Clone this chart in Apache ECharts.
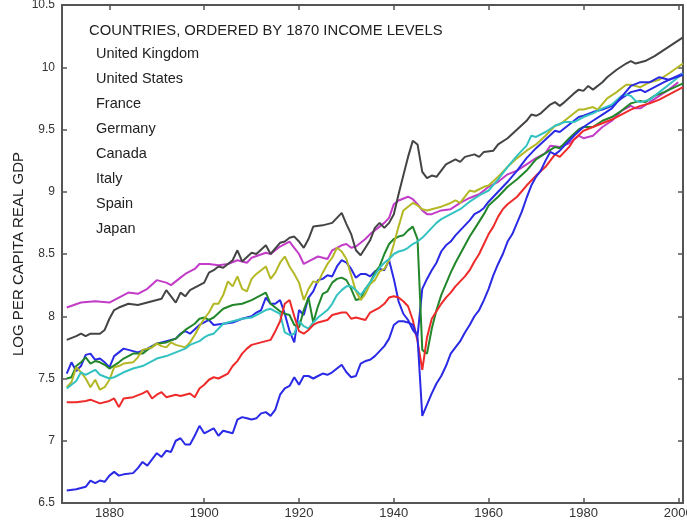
<!DOCTYPE html>
<html>
<head>
<meta charset="utf-8">
<script src="https://cdn.jsdelivr.net/npm/echarts@6/dist/echarts.min.js"></script>
<style>
html,body{margin:0;padding:0;background:#fff;}
#chart{width:687px;height:525px;}
</style>
</head>
<body>
<div id="chart"></div>
<script>
// ---- Data ----
var chartTitle = 'COUNTRIES, ORDERED BY 1870 INCOME LEVELS';
var yAxisName = 'LOG PER CAPITA REAL GDP';
var countries = ['United Kingdom','United States','France','Germany','Canada','Italy','Spain','Japan'];
var xTickValues = [1880, 1900, 1920, 1940, 1960, 1980, 2000];

var ukData = [[1871,8.07],[1874,8.11],[1877,8.12],[1880,8.11],[1882,8.15],[1884,8.19],[1886,8.18],[1888,8.22],[1890,8.29],[1892,8.27],[1893,8.25],[1895,8.31],[1896,8.34],[1898,8.38],[1899,8.42],[1901,8.42],[1903,8.41],[1905,8.42],[1907,8.45],[1909,8.43],[1910,8.47],[1913,8.51],[1914,8.5],[1916,8.56],[1918,8.6],[1919,8.55],[1920,8.5],[1921,8.42],[1922,8.44],[1924,8.48],[1926,8.46],[1927,8.53],[1929,8.57],[1930,8.58],[1931,8.55],[1932,8.56],[1934,8.62],[1935,8.66],[1937,8.72],[1938,8.75],[1939,8.79],[1940,8.9],[1941,8.93],[1943,8.96],[1944,8.94],[1945,8.9],[1946,8.85],[1947,8.82],[1948,8.82],[1950,8.85],[1952,8.86],[1954,8.91],[1956,8.95],[1958,8.98],[1960,9.04],[1962,9.08],[1964,9.14],[1966,9.17],[1968,9.22],[1970,9.27],[1972,9.31],[1973,9.37],[1975,9.36],[1977,9.39],[1979,9.45],[1980,9.43],[1982,9.45],[1984,9.52],[1986,9.57],[1988,9.65],[1990,9.69],[1991,9.67],[1992,9.67],[1994,9.72],[1996,9.77],[1998,9.82],[2000,9.88]];

var usData = [[1871,7.81],[1873,7.84],[1874,7.86],[1875,7.84],[1876,7.86],[1878,7.86],[1879,7.89],[1880,7.98],[1881,8.05],[1882,8.07],[1884,8.1],[1886,8.09],[1888,8.11],[1890,8.13],[1891,8.14],[1892,8.21],[1893,8.16],[1894,8.11],[1895,8.19],[1896,8.16],[1897,8.21],[1899,8.25],[1900,8.27],[1901,8.35],[1902,8.37],[1903,8.4],[1904,8.39],[1906,8.45],[1907,8.53],[1908,8.44],[1910,8.51],[1911,8.5],[1913,8.57],[1914,8.5],[1916,8.59],[1917,8.6],[1918,8.63],[1919,8.64],[1920,8.6],[1921,8.55],[1922,8.62],[1923,8.72],[1925,8.73],[1927,8.75],[1929,8.83],[1930,8.74],[1931,8.66],[1932,8.53],[1933,8.49],[1934,8.55],[1935,8.61],[1936,8.71],[1937,8.75],[1938,8.71],[1939,8.75],[1940,8.82],[1941,8.98],[1942,9.13],[1943,9.28],[1944,9.41],[1945,9.38],[1946,9.16],[1947,9.11],[1948,9.13],[1949,9.12],[1950,9.17],[1951,9.22],[1953,9.26],[1954,9.24],[1955,9.28],[1957,9.3],[1958,9.28],[1959,9.32],[1961,9.33],[1962,9.38],[1964,9.43],[1966,9.5],[1968,9.57],[1969,9.62],[1970,9.61],[1971,9.63],[1973,9.7],[1974,9.72],[1975,9.69],[1976,9.72],[1978,9.79],[1979,9.82],[1980,9.81],[1981,9.85],[1982,9.82],[1984,9.88],[1985,9.92],[1987,9.98],[1989,10.03],[1990,10.05],[1991,10.03],[1993,10.05],[1995,10.09],[1997,10.14],[1999,10.19],[2001,10.24]];

var franceData = [[1871,7.54],[1872,7.63],[1873,7.56],[1874,7.6],[1875,7.69],[1876,7.7],[1877,7.65],[1878,7.66],[1879,7.63],[1880,7.59],[1881,7.68],[1882,7.71],[1883,7.74],[1885,7.72],[1886,7.71],[1888,7.74],[1890,7.78],[1892,7.8],[1894,7.82],[1895,7.86],[1896,7.88],[1897,7.86],[1899,7.93],[1900,7.95],[1901,7.97],[1902,7.93],[1904,7.94],[1906,7.95],[1908,7.98],[1910,8.0],[1911,8.03],[1912,8.05],[1913,8.15],[1914,8.1],[1915,8.1],[1916,8.13],[1917,8.02],[1918,7.88],[1919,7.79],[1920,8.05],[1921,8.01],[1922,8.15],[1923,8.2],[1924,8.29],[1925,8.3],[1926,8.33],[1927,8.32],[1928,8.4],[1929,8.45],[1930,8.43],[1931,8.38],[1932,8.31],[1933,8.34],[1934,8.34],[1935,8.32],[1936,8.36],[1937,8.38],[1938,8.37],[1939,8.45],[1940,8.3],[1941,8.12],[1942,8.02],[1943,7.97],[1944,7.89],[1945,7.84],[1946,8.22],[1947,8.3],[1948,8.37],[1949,8.43],[1950,8.52],[1951,8.57],[1952,8.6],[1953,8.65],[1954,8.69],[1955,8.73],[1956,8.77],[1957,8.82],[1958,8.84],[1959,8.87],[1960,8.92],[1962,9.0],[1964,9.08],[1966,9.17],[1968,9.27],[1970,9.35],[1972,9.42],[1974,9.49],[1975,9.48],[1977,9.54],[1979,9.6],[1980,9.61],[1982,9.64],[1984,9.66],[1986,9.69],[1988,9.75],[1990,9.8],[1992,9.82],[1993,9.8],[1995,9.84],[1997,9.88],[2001,9.95]];

var germanyData = [[1871,7.5],[1872,7.51],[1873,7.6],[1874,7.63],[1875,7.67],[1876,7.62],[1877,7.64],[1878,7.63],[1879,7.61],[1880,7.58],[1882,7.63],[1883,7.66],[1885,7.7],[1887,7.7],[1888,7.73],[1890,7.78],[1892,7.79],[1894,7.82],[1896,7.89],[1898,7.94],[1899,7.98],[1900,7.99],[1901,7.97],[1902,7.99],[1904,8.06],[1906,8.09],[1908,8.1],[1910,8.13],[1912,8.17],[1913,8.19],[1914,8.1],[1916,8.04],[1917,8.02],[1918,8.01],[1919,7.93],[1920,7.91],[1921,8.05],[1922,8.15],[1923,7.95],[1924,8.08],[1925,8.18],[1926,8.2],[1927,8.27],[1928,8.3],[1929,8.31],[1930,8.29],[1931,8.22],[1932,8.13],[1933,8.14],[1934,8.22],[1935,8.27],[1936,8.35],[1937,8.4],[1938,8.5],[1939,8.58],[1940,8.62],[1941,8.64],[1942,8.65],[1943,8.69],[1944,8.72],[1945,8.62],[1946,7.73],[1947,7.7],[1948,7.9],[1949,8.05],[1950,8.17],[1951,8.26],[1952,8.35],[1953,8.43],[1954,8.5],[1955,8.57],[1956,8.64],[1957,8.7],[1958,8.76],[1959,8.82],[1960,8.89],[1962,8.96],[1964,9.04],[1966,9.1],[1968,9.17],[1970,9.26],[1972,9.31],[1974,9.36],[1975,9.35],[1977,9.43],[1979,9.5],[1980,9.52],[1982,9.52],[1984,9.57],[1986,9.6],[1988,9.65],[1990,9.71],[1992,9.73],[1993,9.72],[1995,9.77],[1997,9.8],[2001,9.87]];

var canadaData = [[1871,7.43],[1872,7.47],[1873,7.59],[1874,7.55],[1875,7.5],[1876,7.43],[1877,7.49],[1878,7.41],[1879,7.43],[1880,7.49],[1881,7.59],[1882,7.6],[1883,7.62],[1885,7.63],[1886,7.67],[1887,7.73],[1889,7.75],[1890,7.78],[1891,7.76],[1892,7.75],[1893,7.79],[1894,7.77],[1896,7.75],[1897,7.79],[1898,7.85],[1899,7.92],[1900,7.98],[1901,8.03],[1902,8.1],[1903,8.1],[1904,8.17],[1905,8.28],[1906,8.24],[1907,8.32],[1908,8.22],[1909,8.2],[1910,8.3],[1911,8.34],[1912,8.37],[1913,8.4],[1914,8.3],[1915,8.35],[1916,8.43],[1917,8.48],[1918,8.4],[1919,8.34],[1920,8.27],[1921,8.13],[1922,8.22],[1923,8.28],[1924,8.27],[1925,8.35],[1926,8.42],[1927,8.47],[1928,8.55],[1929,8.52],[1930,8.46],[1931,8.33],[1932,8.2],[1933,8.13],[1934,8.18],[1935,8.26],[1936,8.29],[1937,8.36],[1938,8.38],[1939,8.45],[1940,8.58],[1941,8.72],[1942,8.85],[1943,8.88],[1944,8.91],[1945,8.89],[1946,8.86],[1947,8.85],[1948,8.86],[1950,8.88],[1952,8.91],[1953,8.93],[1954,8.91],[1955,8.96],[1956,9.01],[1957,9.0],[1958,9.02],[1959,9.04],[1960,9.05],[1962,9.12],[1964,9.2],[1966,9.27],[1968,9.33],[1970,9.38],[1972,9.45],[1974,9.53],[1975,9.54],[1977,9.6],[1979,9.66],[1980,9.66],[1982,9.68],[1983,9.66],[1985,9.75],[1987,9.8],[1989,9.86],[1990,9.86],[1992,9.84],[1994,9.88],[1996,9.9],[1998,9.95],[2001,10.03]];

var italyData = [[1871,7.42],[1873,7.48],[1874,7.55],[1875,7.53],[1876,7.55],[1877,7.57],[1878,7.53],[1880,7.5],[1881,7.51],[1883,7.55],[1885,7.58],[1887,7.6],[1888,7.62],[1890,7.66],[1892,7.68],[1894,7.71],[1896,7.74],[1897,7.77],[1899,7.8],[1900,7.83],[1901,7.85],[1902,7.86],[1904,7.94],[1906,7.96],[1908,7.98],[1910,7.99],[1912,8.03],[1913,8.05],[1914,8.06],[1915,8.04],[1916,8.02],[1917,7.87],[1918,7.85],[1919,7.86],[1920,7.96],[1921,7.92],[1922,7.9],[1923,7.95],[1924,7.99],[1926,8.05],[1927,8.1],[1928,8.17],[1929,8.21],[1930,8.24],[1931,8.24],[1932,8.21],[1933,8.17],[1934,8.22],[1935,8.27],[1936,8.33],[1937,8.39],[1938,8.43],[1939,8.46],[1940,8.5],[1941,8.52],[1942,8.53],[1943,8.55],[1944,8.58],[1945,8.6],[1946,8.63],[1947,8.67],[1948,8.71],[1949,8.75],[1950,8.78],[1952,8.82],[1954,8.86],[1956,8.92],[1958,8.97],[1960,9.01],[1962,9.1],[1964,9.2],[1966,9.29],[1968,9.37],[1969,9.45],[1970,9.44],[1972,9.48],[1974,9.53],[1976,9.56],[1978,9.56],[1980,9.6],[1982,9.63],[1984,9.67],[1986,9.7],[1988,9.77],[1989,9.78],[1990,9.77],[1991,9.73],[1992,9.72],[1994,9.74],[1996,9.8],[1998,9.86],[2001,9.95]];

var spainData = [[1871,7.31],[1873,7.31],[1875,7.32],[1876,7.33],[1878,7.3],[1880,7.32],[1881,7.34],[1882,7.27],[1883,7.34],[1885,7.35],[1887,7.38],[1888,7.4],[1889,7.34],[1890,7.37],[1891,7.39],[1892,7.35],[1894,7.37],[1895,7.36],[1897,7.38],[1898,7.35],[1899,7.42],[1900,7.45],[1901,7.49],[1902,7.51],[1903,7.5],[1905,7.54],[1906,7.6],[1907,7.64],[1908,7.7],[1909,7.74],[1910,7.77],[1912,7.79],[1914,7.81],[1915,7.88],[1916,7.96],[1917,8.1],[1918,8.13],[1919,8.0],[1920,7.88],[1921,7.86],[1922,7.89],[1923,7.93],[1924,7.95],[1926,7.97],[1927,8.01],[1929,8.03],[1930,8.03],[1931,7.98],[1932,7.99],[1934,7.97],[1935,8.03],[1936,8.05],[1937,8.07],[1938,8.1],[1939,8.15],[1940,8.16],[1941,8.15],[1942,8.12],[1943,8.08],[1944,7.97],[1945,7.8],[1946,7.57],[1947,7.83],[1948,7.98],[1949,8.04],[1950,8.1],[1951,8.15],[1952,8.19],[1953,8.24],[1954,8.28],[1955,8.32],[1956,8.37],[1957,8.44],[1958,8.5],[1959,8.58],[1960,8.66],[1961,8.72],[1962,8.8],[1963,8.86],[1964,8.9],[1965,8.93],[1966,8.96],[1968,9.05],[1970,9.13],[1972,9.2],[1974,9.3],[1975,9.28],[1977,9.36],[1978,9.42],[1980,9.49],[1982,9.52],[1984,9.55],[1986,9.58],[1988,9.62],[1990,9.66],[1992,9.69],[1994,9.71],[1996,9.74],[1998,9.78],[2001,9.84]];

var japanData = [[1871,6.6],[1873,6.61],[1875,6.63],[1876,6.68],[1877,6.66],[1878,6.68],[1879,6.67],[1880,6.72],[1881,6.75],[1882,6.72],[1883,6.73],[1885,6.74],[1886,6.78],[1887,6.83],[1888,6.8],[1889,6.85],[1890,6.9],[1891,6.87],[1892,6.92],[1893,6.91],[1894,7.0],[1895,7.02],[1896,6.97],[1897,6.97],[1898,7.04],[1899,7.12],[1900,7.06],[1901,7.08],[1902,7.1],[1903,7.04],[1904,7.08],[1905,7.07],[1906,7.06],[1907,7.17],[1908,7.19],[1909,7.18],[1910,7.17],[1911,7.18],[1912,7.22],[1913,7.23],[1914,7.2],[1915,7.25],[1916,7.37],[1917,7.42],[1918,7.44],[1919,7.51],[1920,7.45],[1921,7.52],[1922,7.52],[1923,7.5],[1924,7.52],[1925,7.54],[1926,7.53],[1927,7.55],[1928,7.58],[1929,7.61],[1930,7.55],[1931,7.51],[1932,7.52],[1933,7.62],[1934,7.64],[1935,7.65],[1936,7.68],[1937,7.72],[1938,7.76],[1939,7.82],[1940,7.93],[1941,7.96],[1942,7.96],[1943,7.95],[1944,7.93],[1945,7.83],[1946,7.2],[1947,7.29],[1948,7.38],[1949,7.46],[1950,7.52],[1951,7.6],[1952,7.7],[1953,7.75],[1954,7.8],[1955,7.87],[1956,7.93],[1957,8.0],[1958,8.05],[1959,8.13],[1960,8.22],[1961,8.33],[1962,8.42],[1963,8.5],[1964,8.6],[1965,8.66],[1966,8.75],[1967,8.84],[1968,8.95],[1969,9.05],[1970,9.12],[1971,9.17],[1972,9.25],[1973,9.32],[1974,9.3],[1975,9.33],[1976,9.37],[1977,9.41],[1978,9.45],[1980,9.52],[1982,9.57],[1984,9.62],[1986,9.67],[1988,9.76],[1990,9.85],[1992,9.88],[1994,9.88],[1996,9.92],[1998,9.9],[2001,9.94]];

var seriesValues = [ukData, usData, franceData, germanyData, canadaData, italyData, spainData, japanData];
var lineColors = ['#c23cc8', '#444444', '#2a2ae6', '#22862a', '#b4b824', '#33c2c2', '#ee2a2a', '#2a2ae6'];

// ---- Chart ----
var chart = echarts.init(document.getElementById('chart'), null, {renderer: 'canvas'});
var axisColor = '#555';
var fontFam = '"Liberation Sans", Arial, sans-serif';

var series = countries.map(function (name, i) {
  return {
    name: name,
    type: 'line',
    data: seriesValues[i],
    showSymbol: false,
    symbol: 'none',
    smooth: false,
    lineStyle: {width: 2, color: lineColors[i]},
    itemStyle: {color: lineColors[i]},
    emphasis: {disabled: true},
    z: 2
  };
});

function plainNum(v) { return String(v); }

var option = {
  animation: false,
  backgroundColor: '#fff',
  title: {
    text: chartTitle,
    left: 89,
    top: 23,
    padding: 0,
    textStyle: {fontFamily: fontFam, fontSize: 14.8, fontWeight: 'normal', color: '#222'}
  },
  legend: {
    data: countries,
    orient: 'vertical',
    left: 91,
    top: 46,
    icon: 'none',
    itemWidth: 0,
    itemHeight: 15,
    itemGap: 10,
    padding: 0,
    selectedMode: false,
    textStyle: {fontFamily: fontFam, fontSize: 14.5, color: '#222'}
  },
  grid: {left: 62, right: 4, top: 5, bottom: 22, containLabel: false, outerBoundsMode: 'none'},
  xAxis: [{
    type: 'value',
    min: 1870,
    max: 2001,
    position: 'bottom',
    splitLine: {show: false},
    axisLine: {show: true, lineStyle: {color: axisColor, width: 2}},
    axisTick: {show: true, inside: true, length: 5, customValues: xTickValues, lineStyle: {color: axisColor, width: 1.5}},
    axisLabel: {customValues: xTickValues, formatter: plainNum, margin: 4, fontFamily: fontFam, fontSize: 13, color: '#333'}
  }, {
    type: 'value',
    min: 1870,
    max: 2001,
    position: 'top',
    splitLine: {show: false},
    axisLine: {show: true, lineStyle: {color: axisColor, width: 2}},
    axisTick: {show: true, inside: true, length: 5, customValues: xTickValues, lineStyle: {color: axisColor, width: 1.5}},
    axisLabel: {show: false}
  }],
  yAxis: [{
    type: 'value',
    min: 6.5,
    max: 10.5,
    interval: 0.5,
    position: 'left',
    name: yAxisName,
    nameLocation: 'middle',
    nameRotate: 90,
    nameGap: 36,
    nameMoveOverlap: false,
    nameTextStyle: {fontFamily: fontFam, fontSize: 15, color: '#222'},
    splitLine: {show: false},
    axisLine: {show: true, lineStyle: {color: axisColor, width: 2}},
    axisTick: {show: true, inside: true, length: 5, lineStyle: {color: axisColor, width: 1.5}},
    axisLabel: {formatter: plainNum, margin: 7, fontFamily: fontFam, fontSize: 12, color: '#333'}
  }, {
    type: 'value',
    min: 6.5,
    max: 10.5,
    interval: 0.5,
    position: 'right',
    splitLine: {show: false},
    axisLine: {show: true, lineStyle: {color: axisColor, width: 2}},
    axisTick: {show: true, inside: true, length: 5, lineStyle: {color: axisColor, width: 1.5}},
    axisLabel: {show: false}
  }],
  series: series
};
chart.setOption(option);
</script>
</body>
</html>
